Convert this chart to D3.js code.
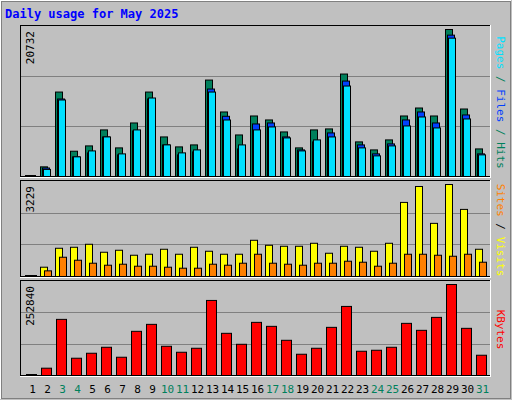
<!DOCTYPE html><html><head><meta charset="utf-8">
<script src="https://cdn.jsdelivr.net/npm/d3@7"></script>
<style>body{margin:0;background:#fff}</style></head><body>
<svg id="c" width="512" height="400"></svg>
<script>
const days=d3.range(1,32);
const weekend=[3,4,10,11,17,18,24,25,31];
const hits=[0,1360,11910,3565,4315,6570,4035,7550,11910,5580,4175,4455,13600,9100,5860,8535,7975,6285,4035,6570,6710,14450,4880,3750,5160,8535,9660,8535,20732,9520,3890];
const files=[0,1200,10930,2770,3330,5580,3050,6425,10930,4455,3050,3470,12335,8490,3890,7410,7550,5580,3750,4880,6145,13460,4455,3190,4595,7975,9100,7550,19935,8680,3190];
const pages=[0,1000,10790,2770,3610,5580,3190,6570,11070,4455,3330,3750,11910,7970,4455,6570,6990,5440,3610,5160,5580,12760,4035,2910,4315,7130,8395,6850,19510,8115,3050];
const visits=[0,326,991,1026,1131,851,921,746,781,956,781,1026,886,781,781,1271,1096,1061,1061,1166,816,1061,1026,886,1166,2600,3159,1865,3229,2355,956];
const sites=[0,198,676,571,466,396,431,361,361,326,291,291,431,396,466,781,466,431,396,466,466,536,501,361,466,781,781,746,711,781,501];
const kbytes=[0,20300,155950,47990,61830,78440,50750,122730,142110,81200,64590,75670,208550,117190,86740,147650,136570,97810,59060,75670,133800,191940,67360,70130,78440,144880,125500,161490,252840,131040,56290];
const maxLabels=["20732","3229","252840"];

const svg=d3.select("#c");
svg.append("rect").attr("width",512).attr("height",400).attr("fill","#c0c0c0");
svg.append("rect").attr("x",0.5).attr("y",0.5).attr("width",510).attr("height",398).attr("fill","none").attr("stroke","#fff");
svg.append("rect").attr("x",1.5).attr("y",1.5).attr("width",509).attr("height",397).attr("fill","none").attr("stroke","#808080").attr("stroke-width",1);
svg.append("text").attr("x",5).attr("y",18).text("Daily usage for May 2025")
 .attr("font-family","DejaVu Sans Mono").attr("font-weight","bold").attr("font-size",12).attr("fill","#0000ff");

const x=d3.scaleBand().domain(days).range([24,489]).padding(0);
const mono="DejaVu Sans Mono";
function panel(top,bot,max,label,series,right){
  svg.append("rect").attr("x",20.5).attr("y",top-3.5).attr("width",470).attr("height",bot-top+4).attr("fill","#c0c0c0").attr("stroke","#000");
  svg.append("line").attr("x1",20).attr("x2",491).attr("y1",bot+1.5).attr("y2",bot+1.5).attr("stroke","#fff");
  svg.append("line").attr("x1",490.5).attr("x2",490.5).attr("y1",top-4).attr("y2",bot+1).attr("stroke","#fff");
  const y=d3.scaleLinear().domain([0,max]).range([bot,top]);
  const h=bot-(top-3);
  [1,2].forEach(i=>svg.append("line").attr("x1",21).attr("x2",490).attr("y1",Math.round(bot-h*i/3)+.5).attr("y2",Math.round(bot-h*i/3)+.5).attr("stroke","#808080"));
  series.forEach(s=>{
    svg.selectAll(null).data(days).enter().append("rect")
     .attr("x",d=>x(d)+s.off+.5).attr("width",s.w)
     .attr("y",d=>Math.min(y(s.v[d-1]),bot-1)+.5).attr("height",d=>Math.max(bot-y(s.v[d-1]),1))
     .attr("fill",d=>s.v[d-1]===0?"#000":s.c).attr("stroke","#000");
  });
  svg.append("text").attr("transform",`translate(34,${top+2}) rotate(-90)`).attr("text-anchor","end")
   .attr("font-family",mono).attr("font-size",11).attr("fill","#000").text(label);
  const t=svg.append("text").attr("transform",`translate(497,${(top+bot)/2}) rotate(90)`).attr("text-anchor","middle")
   .attr("font-family",mono).attr("font-size",11);
  right.forEach(r=>t.append("tspan").attr("fill",r[1]).text(r[0]));
}
panel(29,176,20732,maxLabels[0],[
 {v:hits,c:"#00805c",off:1,w:7},{v:files,c:"#0040ff",off:3,w:7},{v:pages,c:"#00e0ff",off:4,w:7}],
 [["Pages","#00e0ff"],[" / ","#00805c"],["Files","#0040ff"],[" / ","#00805c"],["Hits","#00805c"]]);
panel(184,276,3229,maxLabels[1],[
 {v:visits,c:"#ffff00",off:1,w:7},{v:sites,c:"#ff8000",off:5,w:7}],
 [["Sites","#ff8000"],[" / ","#000"],["Visits","#ffff00"]]);
panel(284,375,252840,maxLabels[2],[{v:kbytes,c:"#ff0000",off:2,w:10}],[["KBytes","#ff0000"]]);

svg.selectAll(null).data(days).enter().append("text")
 .attr("x",d=>x(d)+x.bandwidth()/2+1).attr("y",393).attr("text-anchor","middle")
 .attr("font-family",mono).attr("font-size",11)
 .attr("fill",d=>weekend.includes(d)?"#00805c":"#000").text(d=>d);
</script></body></html>
